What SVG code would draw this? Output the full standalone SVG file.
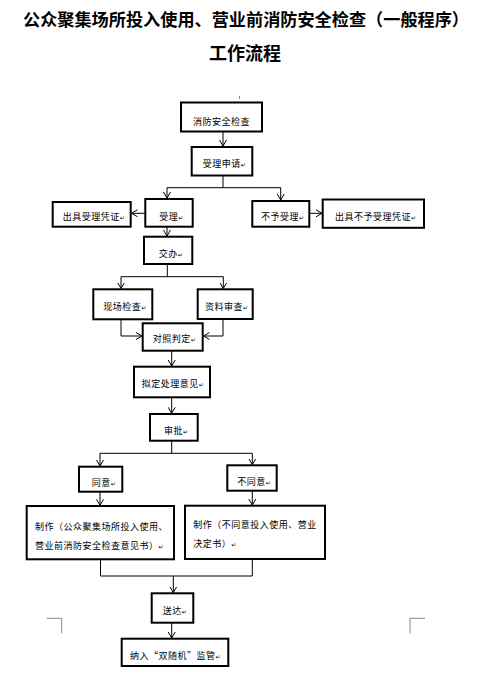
<svg xmlns="http://www.w3.org/2000/svg" width="481" height="684" viewBox="0 0 481 684">
<style>
.box{fill:#fff;stroke:#000;stroke-width:2}
.t{font-family:"Noto Sans CJK SC","Liberation Sans",sans-serif;font-size:9px;fill:#000;letter-spacing:0.5px}
.r{font-size:6px;font-family:"DejaVu Sans",sans-serif}
.title{font-family:"Noto Sans CJK SC",sans-serif;font-weight:bold;fill:#000}
.c{fill:none;stroke:#000;stroke-width:1}
.mark{fill:none;stroke:#888;stroke-width:1}
</style>
<defs>
<marker id="a" viewBox="0 0 6 8" refX="6" refY="4" markerWidth="6" markerHeight="8" markerUnits="userSpaceOnUse" orient="auto">
<path d="M0,0.5 L6,4 L0,7.5" fill="none" stroke="#000" stroke-width="1"/>
</marker>
</defs>
<rect width="481" height="684" fill="#fff"/>
<text class="title" x="246" y="25.5" font-size="17" text-anchor="middle" textLength="446" lengthAdjust="spacingAndGlyphs">公众聚集场所投入使用、营业前消防安全检查（一般程序）</text>
<text class="title" x="245" y="60" font-size="18" text-anchor="middle">工作流程</text>

<g id="connectors">
<path class="c" d="M223,131.5 V146" marker-end="url(#a)"/>
<path class="c" d="M223,175.5 V187.7 M167,187.7 H280.7"/>
<path class="c" d="M167,187.7 V198" marker-end="url(#a)"/>
<path class="c" d="M280.7,187.7 V200" marker-end="url(#a)"/>
<path class="c" d="M145,213.3 H131.5" marker-end="url(#a)"/>
<path class="c" d="M309.3,213.3 H322" marker-end="url(#a)"/>
<path class="c" d="M167,226.7 V236" marker-end="url(#a)"/>
<path class="c" d="M167.3,264 V276.7 M121,276.7 H223.3"/>
<path class="c" d="M121,276.7 V288.5" marker-end="url(#a)"/>
<path class="c" d="M223.3,276.7 V288.5" marker-end="url(#a)"/>
<path class="c" d="M121,319.3 V336 H142" marker-end="url(#a)"/>
<path class="c" d="M223,319.3 V336 H203.5" marker-end="url(#a)"/>
<path class="c" d="M171.7,350.7 V366" marker-end="url(#a)"/>
<path class="c" d="M171.7,397.3 V413.3" marker-end="url(#a)"/>
<path class="c" d="M171.7,440.7 V453.3 M100,453.3 H252.3"/>
<path class="c" d="M100,453.3 V466" marker-end="url(#a)"/>
<path class="c" d="M252.3,453.3 V464.6" marker-end="url(#a)"/>
<path class="c" d="M100,491.7 V505.3" marker-end="url(#a)"/>
<path class="c" d="M252.3,490.7 V505" marker-end="url(#a)"/>
<path class="c" d="M100.5,559.3 V576 H252.3 V559"/>
<path class="c" d="M173.3,576 V592.6" marker-end="url(#a)"/>
<path class="c" d="M171.7,622.7 V638" marker-end="url(#a)"/>
</g>

<path class="mark" d="M46.7,618.3 H61.7 V633.3 M425,618.3 H410 V633.3 M239.5,96 V99"/>

<g id="n1"><rect class="box" x="181" y="102.5" width="81" height="29"/><text class="t" x="193" y="125">消防安全检查</text></g>
<g id="n2"><rect class="box" x="191.7" y="147" width="60.6" height="28.5"/><text class="t" x="202.7" y="166.7">受理申请<tspan class="r">↵</tspan></text></g>
<g id="n3"><rect class="box" x="52.7" y="202" width="78" height="24.7"/><text class="t" x="62.7" y="220">出具受理凭证<tspan class="r">↵</tspan></text></g>
<g id="n4"><rect class="box" x="145.3" y="199" width="47.4" height="27.7"/><text class="t" x="159.3" y="220">受理<tspan class="r">↵</tspan></text></g>
<g id="n5"><rect class="box" x="252.3" y="201" width="57" height="25.7"/><text class="t" x="261" y="220">不予受理<tspan class="r">↵</tspan></text></g>
<g id="n6"><rect class="box" x="322.7" y="199.5" width="101.3" height="28.3"/><text class="t" x="335" y="220">出具不予受理凭证<tspan class="r">↵</tspan></text></g>
<g id="n7"><rect class="box" x="144" y="236.7" width="48.3" height="27.3"/><text class="t" x="158.7" y="256.5">交办<tspan class="r">↵</tspan></text></g>
<g id="n8"><rect class="box" x="93.3" y="289.3" width="59" height="30"/><text class="t" x="103.3" y="310">现场检查<tspan class="r">↵</tspan></text></g>
<g id="n9"><rect class="box" x="197.7" y="289.3" width="55" height="29.7"/><text class="t" x="205" y="310">资料审查<tspan class="r">↵</tspan></text></g>
<g id="n10"><rect class="box" x="142.7" y="323.3" width="60" height="27.4"/><text class="t" x="152.7" y="341.6">对照判定<tspan class="r">↵</tspan></text></g>
<g id="n11"><rect class="box" x="134" y="366.7" width="76" height="30.6"/><text class="t" x="141.7" y="387.3">拟定处理意见<tspan class="r">↵</tspan></text></g>
<g id="n12"><rect class="box" x="150" y="414" width="47.7" height="26.7"/><text class="t" x="164" y="434">审批<tspan class="r">↵</tspan></text></g>
<g id="n13"><rect class="box" x="79" y="466.7" width="43.3" height="25"/><text class="t" x="91.7" y="486">同意<tspan class="r">↵</tspan></text></g>
<g id="n14"><rect class="box" x="227.3" y="465.3" width="49.4" height="25.4"/><text class="t" x="237.3" y="485.4">不同意<tspan class="r">↵</tspan></text></g>
<g id="n15"><rect class="box" x="26.7" y="506" width="147.3" height="53.3"/><text class="t" x="35" y="530.4">制作（公众聚集场所投入使用、</text><text class="t" x="35" y="549">营业前消防安全检查意见书）<tspan class="r">↵</tspan></text></g>
<g id="n16"><rect class="box" x="185" y="505.7" width="140" height="53.3"/><text class="t" x="193.3" y="528.4">制作（不同意投入使用、营业</text><text class="t" x="193.3" y="546.7">决定书）<tspan class="r">↵</tspan></text></g>
<g id="n17"><rect class="box" x="151.7" y="593.3" width="41.6" height="29.4"/><text class="t" x="162.7" y="614.4">送达<tspan class="r">↵</tspan></text></g>
<g id="n18"><rect class="box" x="121.7" y="638.7" width="106.6" height="27.3"/><text class="t" x="130" y="659">纳入“双随机”监管<tspan class="r">↵</tspan></text></g>
</svg>
